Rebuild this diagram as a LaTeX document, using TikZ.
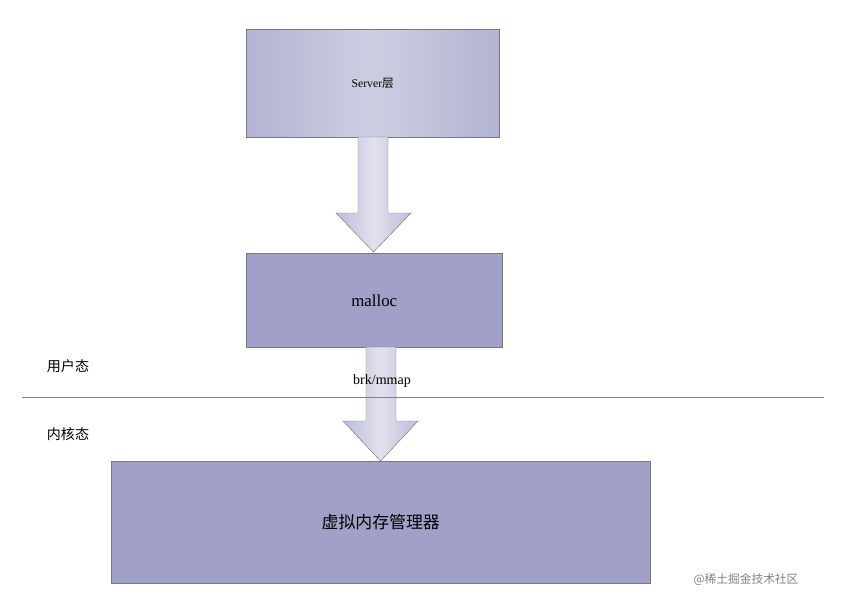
\documentclass[tikz,border=0pt]{standalone}
\usepackage{fontspec}
\setmainfont{Liberation Serif}
\newfontfamily\cjk{Noto Sans CJK SC}
\usetikzlibrary{positioning,calc}
\definecolor{boxlight}{RGB}{206,206,226}
\definecolor{boxdark}{RGB}{160,160,200}
\definecolor{boxedge}{RGB}{120,120,130}

\tikzset{
  box/.style={draw=boxedge, inner sep=0pt, anchor=north west},
  bigarrow/.style={draw=boxedge, left color=boxdark!70, right color=boxdark!70, middle color=boxlight!60},
}

\begin{document}
\begin{tikzpicture}[x=0.03cm, y=-0.03cm]
    \useasboundingbox (0,0) rectangle (844,610);

    % boxes
    \node[box, minimum width=253*0.03cm, minimum height=108*0.03cm,
          left color=boxdark!80, right color=boxdark!80, middle color=boxlight] (server) at (246,29) {};
    \node at (server.center) {Server{\cjk 层}};
    \node[box, fill=boxdark, minimum width=256*0.03cm, minimum height=94*0.03cm] (malloc) at (246,253) {};
    \node[font=\Large] at (malloc.center) {malloc};
    \node[box, fill=boxdark, minimum width=539*0.03cm, minimum height=122*0.03cm] (vmm) at (111,461) {};
    \node[font=\Large\cjk] at (vmm.center) {虚拟内存管理器};

    % arrows
    \draw[bigarrow] (358,137) -- (358,213) -- (336,213) -- (373.5,252) -- (411,213) -- (388,213) -- (388,137) -- cycle;
    \draw[bigarrow] (366,347) -- (366,421) -- (343,421) -- (380.5,461) -- (418,421) -- (396,421) -- (396,347) -- cycle;

    % user / kernel boundary
    \coordinate (lineL) at (22,397);
    \coordinate (lineR) at (824,397);
    \draw[gray] (lineL) -- (lineR);
    \node[font=\large\cjk] (user) at (68,366) {用户态};
    \node[font=\large\cjk] (kernel) at (68,434) {内核态};
    \node[font=\large] (brk) at (382,381) {brk/mmap};

    \node[font=\cjk, text=gray] (mark) at (746,580) {@稀土掘金技术社区};
\end{tikzpicture}
\end{document}
